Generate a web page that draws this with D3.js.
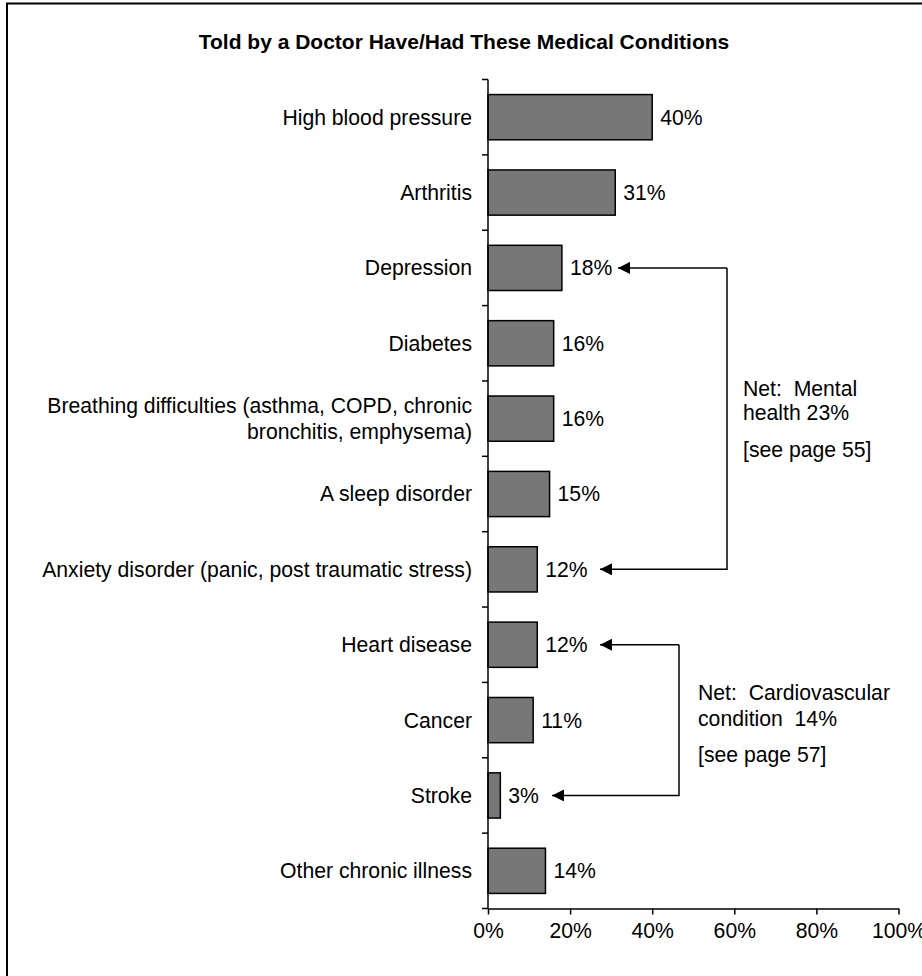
<!DOCTYPE html>
<html><head><meta charset="utf-8">
<script src="https://cdn.jsdelivr.net/npm/d3@7"></script>
<style>
html,body{margin:0;padding:0;background:#fff;}
svg{display:block;font-family:"Liberation Sans",Arial,sans-serif;}
</style></head>
<body>
<script>
const title = "Told by a Doctor Have/Had These Medical Conditions";
const categories = [
  ["High blood pressure"],
  ["Arthritis"],
  ["Depression"],
  ["Diabetes"],
  ["Breathing difficulties (asthma, COPD, chronic", "bronchitis, emphysema)"],
  ["A sleep disorder"],
  ["Anxiety disorder (panic, post traumatic stress)"],
  ["Heart disease"],
  ["Cancer"],
  ["Stroke"],
  ["Other chronic illness"]
];
const values = [40, 31, 18, 16, 16, 15, 12, 12, 11, 3, 14];
const xTicks = [0, 20, 40, 60, 80, 100];
const notes = [
  {from: 2, to: 6, lines: ["Net:  Mental", "health 23%", "[see page 55]"]},
  {from: 7, to: 9, lines: ["Net:  Cardiovascular", "condition  14%", "[see page 57]"]}
];

const W = 922, H = 976;
const svg = d3.select("body").append("svg").attr("width", W).attr("height", H);

// outer border
svg.append("rect").attr("x", 7).attr("y", 3.5).attr("width", 940).attr("height", 1000)
  .attr("fill", "none").attr("stroke", "#000").attr("stroke-width", 2);

svg.append("text").attr("x", 464).attr("y", 49).attr("text-anchor", "middle")
  .attr("font-size", 21).attr("font-weight", "bold").text(title);

const x0 = 488, x1 = 898.5, yTop = 79.5, yBot = 908.5;
const idx = d3.range(values.length);
const x = d3.scaleLinear().domain([0, 100]).range([x0, x1]);
const y = d3.scaleBand().domain(idx).range([yTop, yBot]).paddingInner(0.4).paddingOuter(0.2);
const yb = d3.scaleLinear().domain([0, values.length]).range([yTop, yBot]);

const FS = 21.2;

// bars
svg.append("g").selectAll("rect").data(idx).join("rect")
  .attr("x", x(0)).attr("y", i => y(i))
  .attr("width", i => x(values[i]) - x(0)).attr("height", y.bandwidth())
  .attr("fill", "#777777").attr("stroke", "#000").attr("stroke-width", 1.5);

// value labels
svg.append("g").selectAll("text").data(idx).join("text")
  .attr("x", i => x(values[i]) + 8).attr("y", i => y(i) + y.bandwidth() / 2)
  .attr("dy", "0.35em").attr("font-size", FS).text(i => values[i] + "%");

// y axis line and ticks at band boundaries
const ya = svg.append("g");
ya.append("line").attr("x1", x0).attr("x2", x0).attr("y1", yTop).attr("y2", yBot)
  .attr("stroke", "#000").attr("stroke-width", 1.5);
ya.selectAll("line.t").data(d3.range(values.length + 1)).join("line").attr("class", "t")
  .attr("x1", x0 - 6).attr("x2", x0).attr("y1", d => yb(d)).attr("y2", d => yb(d))
  .attr("stroke", "#000").attr("stroke-width", 1.5);

// category labels
const lab = svg.append("g").selectAll("text").data(idx).join("text")
  .attr("x", x0 - 16).attr("text-anchor", "end").attr("font-size", FS)
  .attr("y", i => y(i) + y.bandwidth() / 2);
lab.each(function(i) {
  const lines = categories[i];
  const t = d3.select(this);
  lines.forEach((l, k) => {
    t.append("tspan").attr("x", x0 - 16)
      .attr("dy", k === 0 ? (0.35 - (lines.length - 1) * 0.62) + "em" : "1.24em")
      .text(l);
  });
});

// x axis
const xa = svg.append("g").attr("transform", `translate(0,${yBot})`)
  .call(d3.axisBottom(x).tickValues(xTicks).tickSize(6).tickSizeOuter(0).tickFormat(d => d + "%"));
xa.select(".domain").attr("stroke-width", 1.5);
xa.selectAll(".tick line").attr("stroke-width", 1.5);
xa.selectAll(".tick text").attr("font-size", FS).attr("font-family", "Liberation Sans, Arial, sans-serif")
  .attr("fill", "#000").attr("y", 9).attr("dy", "0.95em");

// annotations
const defs = svg.append("defs");
defs.append("marker").attr("id", "ah").attr("viewBox", "0 0 10 10").attr("refX", 10).attr("refY", 5)
  .attr("markerUnits", "userSpaceOnUse").attr("markerWidth", 15).attr("markerHeight", 12).attr("orient", "auto")
  .append("path").attr("d", "M0,0L10,5L0,10Z").attr("fill", "#000");

const noteCfg = [
  {tipFrom: 618, tipTo: 600, xv: 727, tx: 743, offs: [-23, 1, 38]},
  {tipFrom: 600, tipTo: 552, xv: 679, tx: 698, offs: [-20.5, 5.5, 41.5]}
];
notes.forEach((n, k) => {
  const c = noteCfg[k];
  const ya1 = y(n.from) + y.bandwidth() / 2, ya2 = y(n.to) + y.bandwidth() / 2;
  svg.append("path").attr("d", `M${c.xv},${ya1}H${c.tipFrom}`).attr("fill", "none")
    .attr("stroke", "#000").attr("stroke-width", 1.5).attr("marker-end", "url(#ah)");
  svg.append("path").attr("d", `M${c.xv},${ya1}V${ya2}H${c.tipTo}`).attr("fill", "none")
    .attr("stroke", "#000").attr("stroke-width", 1.5).attr("marker-end", "url(#ah)");
  const mid = (ya1 + ya2) / 2;
  n.lines.forEach((l, j) => {
    svg.append("text").attr("font-size", FS).attr("x", c.tx).attr("y", mid + c.offs[j])
      .style("white-space", "pre").text(l);
  });
});
</script>
</body></html>
